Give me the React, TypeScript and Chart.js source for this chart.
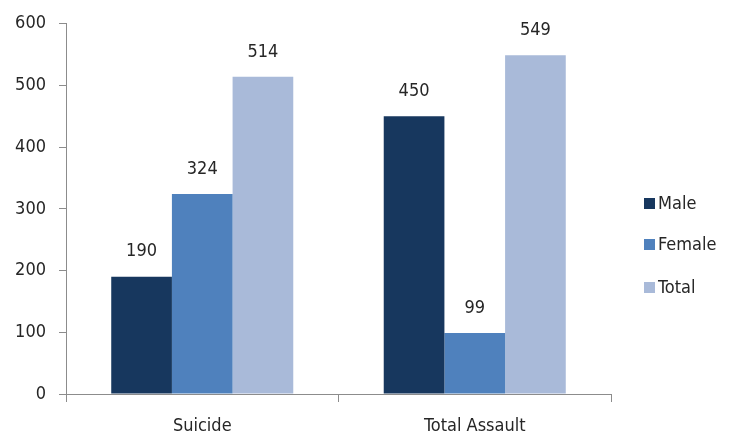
import React, { useEffect, useRef } from "react";
import { Chart, registerables } from "chart.js";

Chart.register(...registerables);

const categories = ["Suicide", "Total Assault"];
const seriesNames = ["Male", "Female", "Total"];
const maleValues = [190, 450];
const femaleValues = [324, 99];
const totalValues = [514, 549];
const colors = ["#17375E", "#4F81BD", "#A9BAD9"];
const yMin = 0;
const yMax = 600;
const yStep = 100;

const FONT = "'Liberation Sans Narrow', 'DejaVu Sans Condensed', 'Open Sans', sans-serif";
const TEXT = "#262626";
const AXIS = "#8C8C8C";

const valueLabels = {
  id: "valueLabels",
  afterDatasetsDraw(chart: any) {
    const ctx = chart.ctx;
    ctx.save();
    ctx.font = `18px ${FONT}`;
    ctx.fillStyle = TEXT;
    ctx.textAlign = "center";
    ctx.textBaseline = "middle";
    chart.data.datasets.forEach((ds: any, i: number) => {
      const meta = chart.getDatasetMeta(i);
      meta.data.forEach((bar: any, j: number) => {
        ctx.fillText(String(ds.data[j]), bar.x, bar.y - 25);
      });
    });
    ctx.restore();
  },
};

const customLegend = {
  id: "customLegend",
  afterDraw(chart: any) {
    const ctx = chart.ctx;
    ctx.save();
    ctx.font = `18px ${FONT}`;
    ctx.textAlign = "left";
    ctx.textBaseline = "middle";
    const ys = [203, 244, 287];
    chart.data.datasets.forEach((ds: any, i: number) => {
      const y = ys[i];
      ctx.fillStyle = ds.backgroundColor;
      ctx.fillRect(644, y - 5, 11, 11);
      ctx.fillStyle = TEXT;
      ctx.fillText(ds.label, 658, y + 1);
    });
    ctx.restore();
  },
};

export default function App() {
  const ref = useRef<HTMLCanvasElement | null>(null);
  useEffect(() => {
    if (!ref.current) return;
    const chart = new Chart(ref.current, {
      type: "bar",
      data: {
        labels: categories,
        datasets: [
          { label: seriesNames[0], data: maleValues, backgroundColor: colors[0] },
          { label: seriesNames[1], data: femaleValues, backgroundColor: colors[1] },
          { label: seriesNames[2], data: totalValues, backgroundColor: colors[2] },
        ],
      },
      options: {
        animation: false,
        responsive: true,
        maintainAspectRatio: false,
        layout: { padding: { left: 0, right: 123, top: 19, bottom: 0 } },
        datasets: { bar: { barPercentage: 1, categoryPercentage: 0.668 } },
        plugins: { legend: { display: false }, tooltip: { enabled: false } },
        scales: {
          x: {
            afterFit: (s: any) => { s.height = 42; },
            border: { color: AXIS, width: 1 },
            grid: { display: true, offset: true, drawOnChartArea: false, drawTicks: true, tickLength: 8, color: AXIS },
            ticks: { color: TEXT, font: { family: FONT, size: 18 }, padding: 14 },
          },
          y: {
            min: yMin,
            max: yMax,
            afterFit: (s: any) => { s.width = 66; },
            border: { color: AXIS, width: 1 },
            grid: { display: true, drawOnChartArea: false, drawTicks: true, tickLength: 7, color: AXIS },
            ticks: { stepSize: yStep, color: TEXT, font: { family: FONT, size: 18 }, padding: 13 },
          },
        },
      },
      plugins: [valueLabels, customLegend],
    });
    return () => chart.destroy();
  }, []);
  return (
    <div style={{ position: "fixed", left: 0, top: 0, width: 734, height: 436, background: "#fff" }}>
      <canvas ref={ref} />
    </div>
  );
}
